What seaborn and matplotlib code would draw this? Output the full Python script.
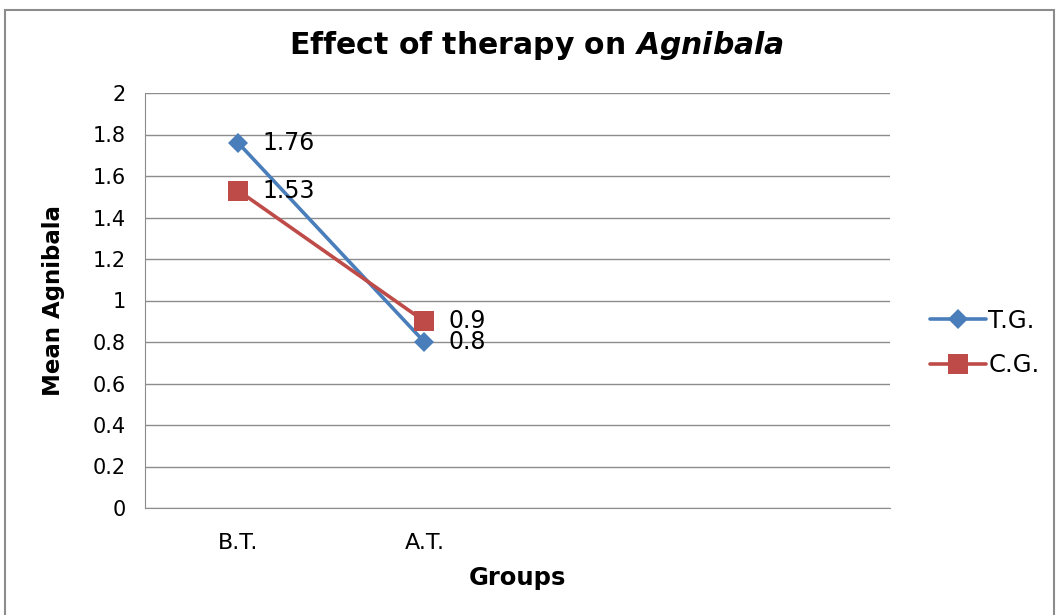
import numpy as np
import pandas as pd
import matplotlib
matplotlib.use("Agg")
import matplotlib.pyplot as plt
from matplotlib.patches import Rectangle
import seaborn as sns

groups = ["B.T.", "A.T.", " ", "  "]
tg_values = [1.76, 0.8]
cg_values = [1.53, 0.9]
series_names = ["T.G.", "C.G."]

df = pd.DataFrame({
    "Groups": groups[:2] * 2,
    "Mean": tg_values + cg_values,
    "Series": [series_names[0]] * 2 + [series_names[1]] * 2,
})

sns.set_style("white")
plt.rcParams['font.family'] = ['DejaVu Sans']
plt.rcParams['text.color'] = 'black'
plt.rcParams['axes.labelcolor'] = 'black'
plt.rcParams['xtick.color'] = 'black'
plt.rcParams['ytick.color'] = 'black'

fig = plt.figure(figsize=(10.59, 6.15), dpi=100)
ax = fig.add_axes([145 / 1059, 1 - 508 / 615, 745 / 1059, 415 / 615])

colors = {"T.G.": "#4A7EBB", "C.G.": "#BE4B48"}
markers = {"T.G.": "D", "C.G.": "s"}
sizes = {"T.G.": 10, "C.G.": 14}

for name in series_names:
    sub = df[df["Series"] == name]
    sns.lineplot(data=sub, x="Groups", y="Mean", ax=ax, color=colors[name],
                 marker=markers[name], markersize=sizes[name], linewidth=2.6,
                 markeredgewidth=0, label=name)
    for gx, gy in zip(sub["Groups"], sub["Mean"]):
        xi = groups.index(gx)
        ax.text(xi + 0.13, gy, f"{gy:g}", fontsize=17, va="center", ha="left")

ax.set_xticks(range(len(groups)))
ax.set_xticklabels(groups, fontsize=16)
ax.set_xlim(-0.5, len(groups) - 0.5)
ax.set_ylim(0, 2)
ax.set_yticks(np.arange(0, 2.01, 0.2))
ax.set_yticklabels([f"{v:g}" for v in np.arange(0, 2.01, 0.2).round(1)], fontsize=15)
ax.tick_params(axis="y", length=0, pad=14)
ax.tick_params(axis="x", length=0, pad=18)
ax.yaxis.grid(True, color="#8c8c8c", linewidth=1)
for s in ["top", "right"]:
    ax.spines[s].set_visible(False)
for s in ["left", "bottom"]:
    ax.spines[s].set_color("#8c8c8c")

ax.set_xlabel("Groups", fontsize=17.5, fontweight="bold")
ax.set_ylabel("Mean Agnibala", fontsize=16.5, fontweight="bold")
ax.xaxis.set_label_coords(372 / 745, -58 / 415)
ax.yaxis.set_label_coords(-80 / 745, 0.5)

fig.text(537 / 1059, 1 - 45 / 615, "Effect of therapy on $\\bfit{Agnibala}$",
         fontsize=21.5, fontweight="bold", ha="center", va="center")

ax.get_legend().remove()
handles, labels = ax.get_legend_handles_labels()
fig.legend(handles, labels, loc="center left", bbox_to_anchor=(908 / 1059, 1 - 343 / 615),
           frameon=False, fontsize=17.5, handlelength=2.3, handletextpad=0.1,
           labelspacing=0.85)

fig.patches.append(Rectangle((5 / 1059, -0.05), 1049 / 1059, 1.05 - 10 / 615,
                             transform=fig.transFigure, fill=False,
                             edgecolor="#8c8c8c", linewidth=1.5))

fig.savefig("out.png", dpi=100)
